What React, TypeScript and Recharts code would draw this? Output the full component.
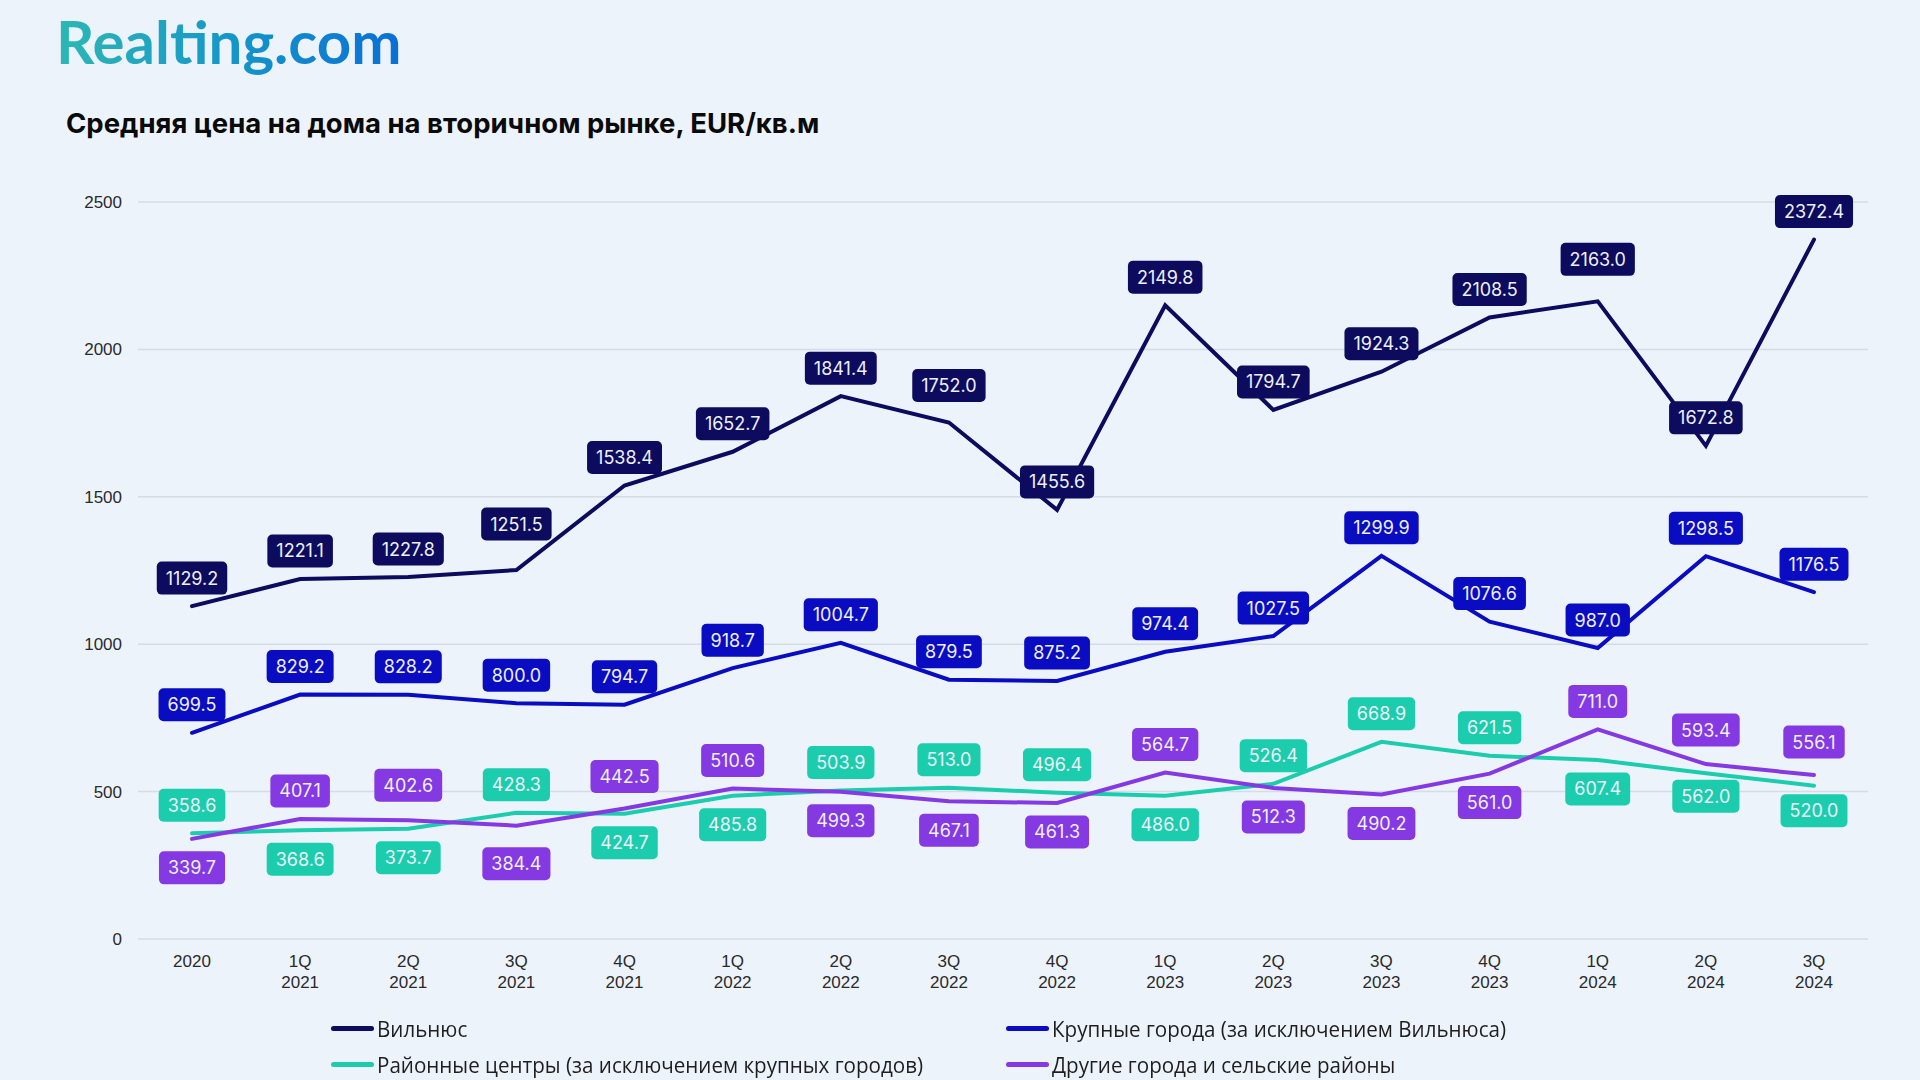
import React from "react";
import { LineChart, Line, XAxis, YAxis, CartesianGrid, LabelList } from "recharts";

const categories = ["2020", "1Q 2021", "2Q 2021", "3Q 2021", "4Q 2021", "1Q 2022", "2Q 2022", "3Q 2022", "4Q 2022", "1Q 2023", "2Q 2023", "3Q 2023", "4Q 2023", "1Q 2024", "2Q 2024", "3Q 2024"];
const vilnius = [1129.2, 1221.1, 1227.8, 1251.5, 1538.4, 1652.7, 1841.4, 1752.0, 1455.6, 2149.8, 1794.7, 1924.3, 2108.5, 2163.0, 1672.8, 2372.4];
const bigCities = [699.5, 829.2, 828.2, 800.0, 794.7, 918.7, 1004.7, 879.5, 875.2, 974.4, 1027.5, 1299.9, 1076.6, 987.0, 1298.5, 1176.5];
const districtCenters = [358.6, 368.6, 373.7, 428.3, 424.7, 485.8, 503.9, 513.0, 496.4, 486.0, 526.4, 668.9, 621.5, 607.4, 562.0, 520.0];
const otherTowns = [339.7, 407.1, 402.6, 384.4, 442.5, 510.6, 499.3, 467.1, 461.3, 564.7, 512.3, 490.2, 561.0, 711.0, 593.4, 556.1];
const yTicks = [0, 500, 1000, 1500, 2000, 2500];

const seriesNames = [
  "Вильнюс",
  "Крупные города (за исключением Вильнюса)",
  "Районные центры (за исключением крупных городов)",
  "Другие города и сельские районы",
];
const seriesKeys = ["vilnius", "big", "district", "other"];
const seriesColors = ["#0C0B5E", "#0A0CC2", "#1CCDAD", "#8439E2"];

// label placement (u = above point, d = below point)
const labelSides = [
  "uuuuuuuuuuuuuuuu",
  "uuuuuuuuuuuuuuuu",
  "uddudduuuduuuddd",
  "duuduudddudddunu".replace("n", "u"),
];
// extra label nudges in px (style only)
const labelNudges = [
  [0, 0, 0, -18, 0, 0, 0, -9, 0, 0, 0, 0, 0, -14, 0, 0],
  [0, 0, 0, 0, 0, 0, 0, 0, 0, 0, 0, 0, 0, 0, 0, 0],
  [0, 0, 0, 0, 0, 0, 0, 0, 0, 0, 0, 0, 0, 0, -6, -4],
  [0, 0, -7, 9, -4, 0, 0, 0, 0, 0, 0, 0, 0, 0, -6, -5],
];

const data = categories.map((c, i) => ({
  cat: c,
  vilnius: vilnius[i],
  big: bigCities[i],
  district: districtCenters[i],
  other: otherTowns[i],
}));

let ctx: CanvasRenderingContext2D | null = null;
const LABEL_FONT = "400 18px Inter";
function measure(t: string) {
  if (!ctx) {
    const c = document.createElement("canvas");
    ctx = c.getContext("2d");
  }
  if (!ctx) return t.length * 10;
  ctx.font = LABEL_FONT;
  return ctx.measureText(t).width;
}

const makeLabel = (si: number) => (props: any) => {
  const x = props.viewBox?.x ?? props.x;
  const y = props.viewBox?.y ?? props.y;
  const idx = props.index;
  const v = Number(props.value);
  if (x == null || y == null || isNaN(v)) return null;
  const text = v.toFixed(1);
  const w = measure(text) + 18;
  const h = 33;
  const side = labelSides[si][idx] || "u";
  const cy = (side === "u" ? y - 28 : y + 29) + (labelNudges[si][idx] || 0);
  return (
    <g>
      <rect x={x - w / 2} y={cy - h / 2} width={w} height={h} rx={5} ry={5} fill={seriesColors[si]} />
      <text x={x} y={cy} dy="0.36em" textAnchor="middle" fill="#EEF0FA" style={{ font: LABEL_FONT }}>
        {text}
      </text>
    </g>
  );
};

const XTick = (props: any) => {
  const { x, y, payload } = props;
  const parts = String(payload.value).split(" ");
  return (
    <g>
      {parts.map((p: string, i: number) => (
        <text key={i} x={x} y={y + 20 + i * 21} textAnchor="middle" fill="#2A2A2A" style={{ fontFamily: "Liberation Sans, Arial, sans-serif", fontSize: 17 }}>
          {p}
        </text>
      ))}
    </g>
  );
};

const legendPos = [
  { x: 331, y: 1028 },
  { x: 1006, y: 1028 },
  { x: 331, y: 1064 },
  { x: 1006, y: 1064 },
];

export default function App() {
  return (
    <div style={{ position: "absolute", left: 0, top: 0, width: 1920, height: 1080, background: "#EDF3FB", overflow: "hidden" }}>
      <div
        style={{
          position: "absolute",
          left: 56,
          top: 5,
          fontFamily: "Lato, sans-serif",
          fontWeight: 700,
          fontSize: 60,
          letterSpacing: 0,
          background: "linear-gradient(90deg, #2DB8B4 0%, #1597C9 50%, #0A6FD6 100%)",
          WebkitBackgroundClip: "text",
          backgroundClip: "text",
          color: "transparent",
          lineHeight: "72px",
        }}
      >
        Realting.com
      </div>
      <div
        style={{
          position: "absolute",
          left: 66,
          top: 105,
          fontFamily: "Inter, sans-serif",
          fontWeight: 700,
          fontSize: 27.5,
          color: "#0A0A0A",
          lineHeight: "36px",
          whiteSpace: "nowrap",
        }}
      >
        Средняя цена на дома на вторичном рынке, EUR/кв.м
      </div>
      <div style={{ position: "absolute", left: 0, top: 0 }}>
        <LineChart width={1920} height={1080} data={data} margin={{ top: 202, right: 52, bottom: 81, left: 78 }}>
          <CartesianGrid vertical={false} stroke="#D6DCE4" strokeWidth={1.5} />
          <XAxis
            dataKey="cat"
            axisLine={false}
            tickLine={false}
            interval={0}
            height={60}
            padding={{ left: 54, right: 54 }}
            tick={<XTick />}
          />
          <YAxis
            width={60}
            domain={[0, 2500]}
            ticks={yTicks}
            axisLine={false}
            tickLine={false}
            tickSize={0}
            tickMargin={16}
            tick={{ fill: "#2A2A2A", fontSize: 17, fontFamily: "Liberation Sans, Arial, sans-serif" }}
          />
          {seriesKeys.map((k, si) => (
            <Line
              key={k}
              type="linear"
              dataKey={k}
              name={seriesNames[si]}
              stroke={seriesColors[si]}
              strokeWidth={4}
              dot={false}
              activeDot={false}
              isAnimationActive={false}
              strokeLinecap="round"
              strokeLinejoin="miter"
            >
              <LabelList dataKey={k} content={makeLabel(si)} />
            </Line>
          ))}
        </LineChart>
      </div>
      {seriesNames.map((n, i) => (
        <div
          key={n}
          style={{
            position: "absolute",
            left: legendPos[i].x,
            top: legendPos[i].y - 16,
            height: 32,
            display: "flex",
            alignItems: "center",
            whiteSpace: "nowrap",
          }}
        >
          <div style={{ width: 43, height: 5, borderRadius: 3, background: seriesColors[i], marginRight: 3 }} />
          <span
            style={{
              display: "inline-block",
              fontFamily: "'Open Sans', sans-serif",
              fontSize: 22.5,
              color: "#1E1E1E",
              fontWeight: 400,
              transform: "scaleX(0.915)",
              transformOrigin: "left center",
            }}
          >
            {n}
          </span>
        </div>
      ))}
    </div>
  );
}
